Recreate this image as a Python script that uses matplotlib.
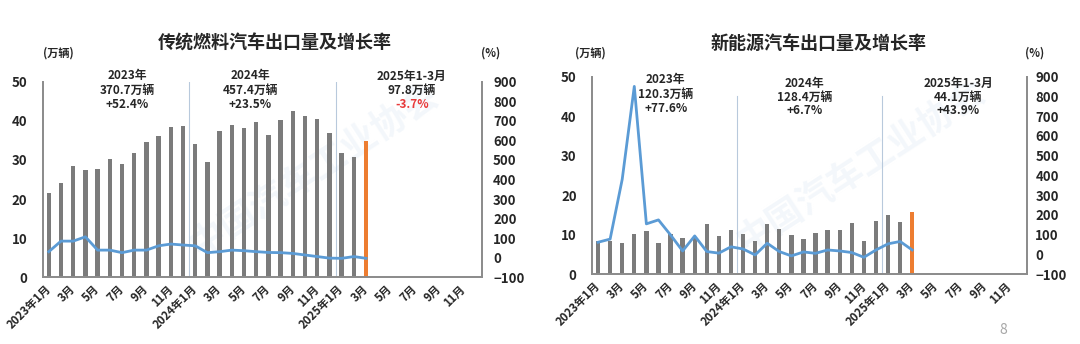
import matplotlib
matplotlib.use("Agg")
import matplotlib.pyplot as plt
import matplotlib.transforms as mtransforms

plt.rcParams['font.family'] = ['Noto Sans CJK SC', 'DejaVu Sans']

# ---------------- data ----------------
tick_labels = ["2023年1月", "3月", "5月", "7月", "9月", "11月",
               "2024年1月", "3月", "5月", "7月", "9月", "11月",
               "2025年1月", "3月", "5月", "7月", "9月", "11月"]
n_slots = 36

fuel_volume = [21.6, 24.1, 28.5, 27.4, 27.8, 30.2, 29.0, 31.7, 34.6, 36.2, 38.5, 38.6,
               34.0, 29.4, 37.4, 38.9, 38.1, 39.7, 36.4, 40.1, 42.5, 41.2, 40.5, 36.9,
               31.8, 30.7, 34.8]
fuel_growth = [31, 85, 85, 107, 39, 39, 26, 39, 39, 61, 70, 65,
               61, 26, 31, 39, 36, 31, 27, 26, 22, 14, 6, -2,
               -3, 6, -3]

nev_volume = [8.3, 8.5, 8.0, 10.2, 11.0, 8.0, 10.1, 9.2, 9.5, 12.6, 9.7, 11.3,
              10.3, 8.3, 12.6, 11.4, 9.9, 8.8, 10.4, 11.2, 11.2, 13.0, 8.4, 13.4,
              15.1, 13.2, 15.8]
nev_growth = [62, 78, 380, 850, 155, 175, 99, 18, 94, 15, 7, 39,
              28, -2, 57, 15, -7, 13, 6, 23, 18, 10, -14, 23,
              54, 66, 23]

fuel_title = "传统燃料汽车出口量及增长率"
nev_title = "新能源汽车出口量及增长率"
fuel_notes = [("2023年", "370.7万辆", "+52.4%"),
              ("2024年", "457.4万辆", "+23.5%"),
              ("2025年1-3月", "97.8万辆", "-3.7%")]
nev_notes = [("2023年", "120.3万辆", "+77.6%"),
             ("2024年", "128.4万辆", "+6.7%"),
             ("2025年1-3月", "44.1万辆", "+43.9%")]

# ---------------- style ----------------
W, H = 1080, 344
GRAY = "#7b7b7b"
ORANGE = "#ed7d31"
BLUE = "#5b9bd5"
TXT = "#262626"
SPINE = "#8c8c8c"

fig = plt.figure(figsize=(W / 100, H / 100), dpi=100)
fig.patch.set_facecolor("white")


def px_axes(x0, x1, ytop, ybot):
    return fig.add_axes([x0 / W, 1 - ybot / H, (x1 - x0) / W, (ybot - ytop) / H])


def draw_chart(box, title, title_x, vol, growth, notes, note_x, note_y,
               divider_top, lpad, rpad, unit_l_x, unit_r_x, red_last=False):
    x0, x1, ytop, ybot = box
    ax = px_axes(x0, x1, ytop, ybot)
    ax.set_facecolor("none")
    ax2 = ax.twinx()
    n = len(vol)
    idx = list(range(n))
    colors = [GRAY] * (n - 1) + [ORANGE]
    ax.bar(idx, vol, width=0.36, color=colors, zorder=2)
    ax.set_xlim(-0.5, n_slots - 0.5)
    ax.set_ylim(0, 50)
    ax.set_yticks(range(0, 51, 10))
    ax2.set_ylim(-100, 900)
    ax2.set_yticks(range(-100, 901, 100))
    ax2.plot(idx, growth, color=BLUE, lw=2.0, zorder=3, solid_joinstyle="round")

    ax.set_xticks(range(0, n_slots, 2))
    ax.set_xticklabels(tick_labels, rotation=45, ha="right", va="center",
                       rotation_mode="anchor", fontsize=8.2, fontweight="bold",
                       color=TXT)
    ax.tick_params(axis="x", length=0, pad=7)
    ax.tick_params(axis="y", length=0, pad=lpad, labelsize=9.5, labelcolor=TXT)
    ax2.tick_params(axis="y", length=0, pad=rpad, labelsize=9.5, labelcolor=TXT)
    for lab in ax.get_yticklabels() + ax2.get_yticklabels():
        lab.set_fontweight("bold")

    for a in (ax, ax2):
        a.spines["top"].set_visible(False)
        for s in ("left", "right", "bottom"):
            a.spines[s].set_color(SPINE)
            a.spines[s].set_linewidth(1.3)

    # year dividers
    for xd in (11.5, 23.5):
        ax.plot([xd, xd], [0, divider_top], color="#b8c9dc", lw=0.8, zorder=1)

    # annotations
    tr = mtransforms.blended_transform_factory(ax.transData, fig.transFigure)
    for k, (l1, l2, l3) in enumerate(notes):
        xs = note_x[k]
        ys = note_y[k]
        for j, s in enumerate((l1, l2, l3)):
            col = TXT
            if red_last and k == 2 and j == 2:
                col = "#e8393a"
            ax.text(xs, 1 - (ys + 14 * j) / H, s, transform=tr, ha="center",
                    va="center", fontsize=8.5, fontweight="bold", color=col,
                    zorder=5)

    # watermark
    ax.text(0.62, 0.55, "中国汽车工业协会", transform=ax.transAxes, rotation=33,
            fontsize=26, fontweight="bold", color="#e3ecf5", alpha=0.4,
            ha="center", va="center", zorder=0)

    fig.text(title_x / W, 1 - 43 / H, title, ha="center", va="center",
             fontsize=13, fontweight="bold", color=TXT)
    fig.text(unit_l_x / W, 1 - 53 / H, "(万辆)", ha="center", va="center",
             fontsize=8, fontweight="bold", color=TXT)
    fig.text(unit_r_x / W, 1 - 53 / H, "(%)", ha="center", va="center",
             fontsize=8, fontweight="bold", color=TXT)
    return ax, ax2


draw_chart((42.7, 482, 81.7, 277.3), fuel_title, 275, fuel_volume, fuel_growth,
           fuel_notes, [6.4, 16.5, 29.75], [76, 76, 76], 50,
           lpad=11, rpad=8, unit_l_x=58, unit_r_x=491, red_last=True)

draw_chart((592, 1027, 76.5, 274.3), nev_title, 819, nev_volume, nev_growth,
           nev_notes, [5.6, 17.1, 29.8], [80, 83, 83], 45,
           lpad=11, rpad=6, unit_l_x=590, unit_r_x=1035)

fig.text(1003 / W, 1 - 330 / H, "8", ha="center", va="center", fontsize=10,
         color="#a6a6a6")

fig.savefig("out.png", dpi=100)
